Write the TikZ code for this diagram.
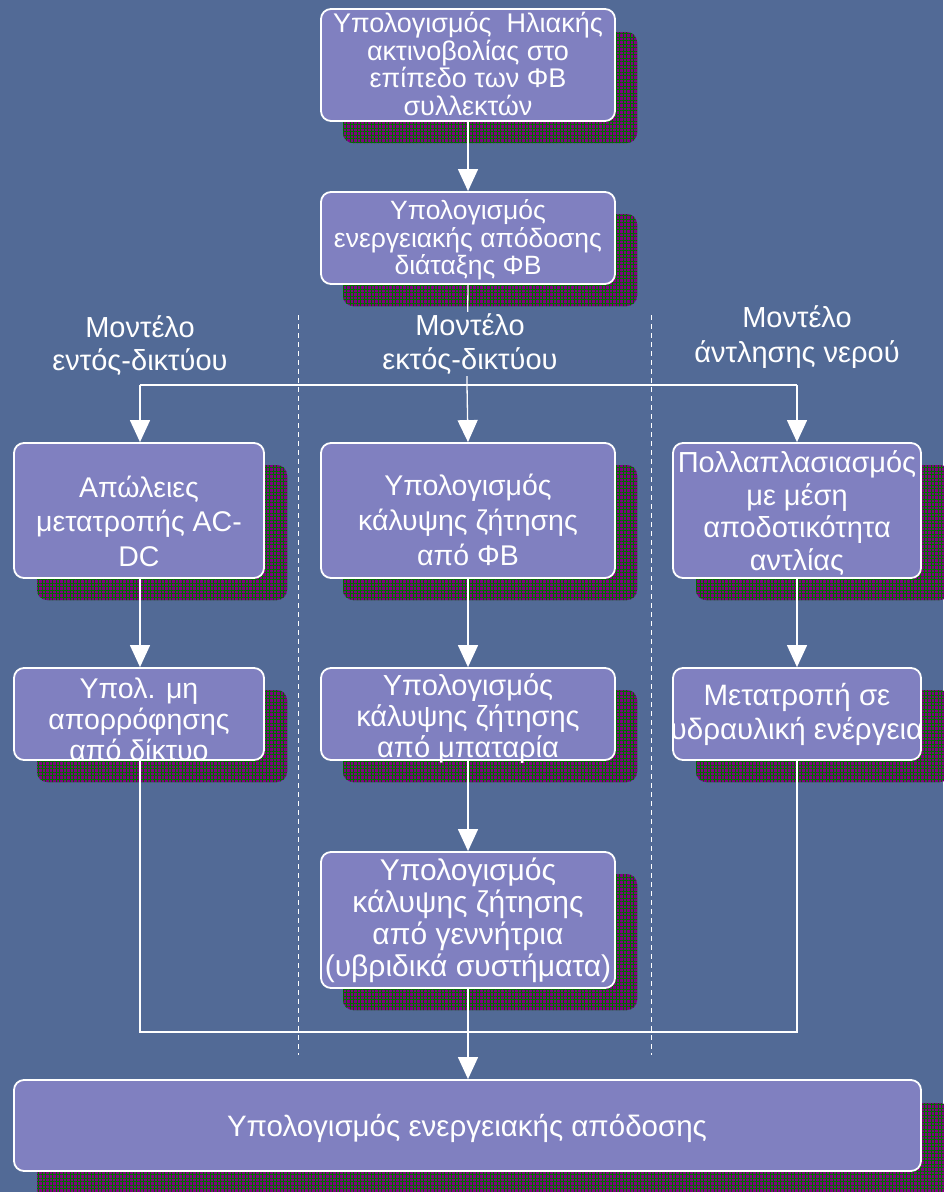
\documentclass[tikz,border=0pt]{standalone}
\usepackage{fontspec}
\setmainfont{Liberation Sans}
\usetikzlibrary{patterns.meta,arrows.meta}
\definecolor{bg}{RGB}{82,106,150}
\definecolor{boxfill}{RGB}{128,128,192}
\definecolor{shpurple}{RGB}{128,0,128}
\definecolor{shgreen}{RGB}{0,110,0}
\tikzset{
  shadowbox/.style={fill=shpurple,
    postaction={pattern={Lines[angle=0,distance=3.5pt,line width=0.6pt]}, pattern color=shgreen},
    postaction={pattern={Lines[angle=90,distance=3.5pt,line width=0.6pt]}, pattern color=shgreen},
    rounded corners=10pt},
  mainbox/.style={draw=white, line width=1.8pt, fill=boxfill, rounded corners=10pt},
  boxtext/.style={text=white, align=center, inner sep=0pt},
  conn/.style={draw=white, line width=1.3pt},
  arr/.style={conn, -{Triangle[width=20pt,length=22pt]}},
  divider/.style={draw=white, line width=1pt, dash pattern=on 5pt off 4pt},
  fs/.style n args={2}{font=\fontsize{#1}{#2}\selectfont},
}
\begin{document}
\begin{tikzpicture}[x=1pt,y=-1pt]
\fill[bg] (0,0) rectangle (943,1192);
\useasboundingbox (0,0) rectangle (943,1192);

% shadows
\path[shadowbox] (343,32) rectangle (637,143);
\path[shadowbox] (343,214) rectangle (637,306);
\path[shadowbox] (37,465) rectangle (287,600);
\path[shadowbox] (343,465) rectangle (637,600);
\path[shadowbox] (696,465) rectangle (950,600);
\path[shadowbox] (37,690) rectangle (287,782);
\path[shadowbox] (343,690) rectangle (637,782);
\path[shadowbox] (696,690) rectangle (950,782);
\path[shadowbox] (343,874) rectangle (637,1010);
\path[shadowbox] (37,1103) rectangle (950,1200);

% dividers
\draw[divider] (298,315) -- (298,1055);
\draw[divider] (651,315) -- (651,1055);

% boxes
\node[mainbox, minimum width=294pt, minimum height=112pt] (b1) at (468,65) {};
\node[mainbox, minimum width=294pt, minimum height=92pt] (b2) at (468,238) {};
\node[mainbox, minimum width=250pt, minimum height=135pt] (b3) at (139,510.5) {};
\node[mainbox, minimum width=294pt, minimum height=135pt] (b4) at (468,510.5) {};
\node[mainbox, minimum width=248pt, minimum height=135pt] (b5) at (797,510.5) {};
\node[mainbox, minimum width=250pt, minimum height=92pt] (b6) at (139,714) {};
\node[mainbox, minimum width=294pt, minimum height=92pt] (b7) at (468,714) {};
\node[mainbox, minimum width=248pt, minimum height=92pt] (b8) at (797,714) {};
\node[mainbox, minimum width=294pt, minimum height=136pt] (b9) at (468,920) {};
\node[mainbox, minimum width=907pt, minimum height=91pt] (b10) at (467.5,1125.5) {};

% texts
\node[boxtext, fs={27}{27.5}] (t1) at (468,64) {Υπολογισμός\ \ Ηλιακής\\ακτινοβολίας στο\\επίπεδο των ΦΒ\\συλλεκτών};
\node[boxtext, fs={26.5}{27.5}] (t2) at (468,240) {Υπολογισμός\\ενεργειακής απόδοσης\\διάταξης ΦΒ};
\node[boxtext, fs={28.5}{34.5}] (t3) at (139,521) {Απώλειες\\μετατροπής AC-\\DC};
\node[boxtext, fs={28.5}{35}] (t4) at (468,520) {Υπολογισμός\\κάλυψης ζήτησης\\από ΦΒ};
\node[boxtext, fs={29}{32.5}] (t5) at (797,513) {Πολλαπλασιασμός\\με μέση\\αποδοτικότητα\\αντλίας};
\node[boxtext, fs={28.5}{31}] (t6) at (139,719) {Υπολ. μη\\απορρόφησης\\από δίκτυο};
\node[boxtext, fs={29}{31}] (t7) at (468,719) {Υπολογισμός\\κάλυψης ζήτησης\\από μπαταρία};
\node[boxtext, fs={29.5}{34}] (t8) at (797,714) {Μετατροπή σε\\υδραυλική ενέργεια};
\node[boxtext, fs={30}{32}] (t9) at (468,920) {Υπολογισμός\\κάλυψης ζήτησης\\από γεννήτρια\\(υβριδικά συστήματα)};
\node[boxtext, fs={29.5}{32}] (t10) at (467,1128) {Υπολογισμός ενεργειακής απόδοσης};

% connectors
\coordinate (split) at (467,385);
\coordinate (splitL) at (140,385);
\coordinate (splitR) at (797,385);
\coordinate (joinL) at (140,1032);
\coordinate (joinR) at (797,1032);
\draw[arr] (b1.south) -- (b2.north);
\draw[conn] (b2.south) -- (split);
\draw[conn] (splitL) -- (splitR);
\draw[arr] (splitL) -- (splitL |- b3.north);
\draw[arr] (split) -- (b4.north);
\draw[arr] (splitR) -- (splitR |- b5.north);
\draw[arr] (b3.south -| splitL) -- (splitL |- b6.north);
\draw[arr] (b4.south) -- (b7.north);
\draw[arr] (b7.south) -- (b9.north);
\draw[arr] (b5.south -| splitR) -- (splitR |- b8.north);
\draw[conn] (b6.south -| joinL) -- (joinL) -- (joinR) -- (b8.south -| joinR);
\draw[arr] (b9.south) -- (b10.north -| b9.south);

% labels
\node[boxtext, fs={29}{33}] (l1) at (140,346) {Μοντέλο\\εντός-δικτύου};
\node[boxtext, fill=bg, inner ysep=2pt, fs={29}{34}] (l2) at (470,344) {Μοντέλο\\εκτός-δικτύου};
\node[boxtext, fs={29}{35}] (l3) at (797,337) {Μοντέλο\\άντλησης νερού};
\end{tikzpicture}
\end{document}
